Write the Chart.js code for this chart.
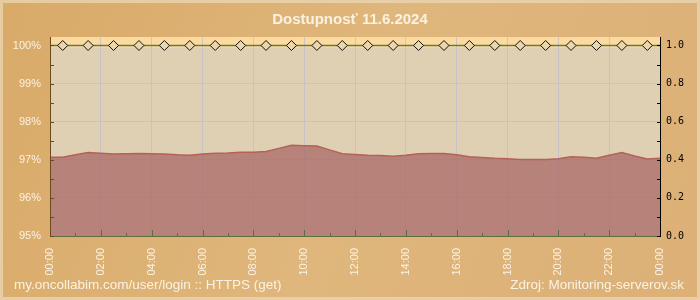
<!DOCTYPE html>
<html>
<head>
<meta charset="utf-8">
<script src="https://cdn.jsdelivr.net/npm/chart.js@4"></script>
<style>
  html, body { margin: 0; padding: 0; background: #dcb274; }
  canvas { display: block; }
</style>
</head>
<body>
<canvas id="chart" width="700" height="300"></canvas>
<script>
// availability (%) every 30 minutes, 00:00 .. 24:00
const availability = [
  97.07, 97.07, 97.13, 97.19, 97.17, 97.15, 97.16, 97.165, 97.16, 97.15,
  97.13, 97.12, 97.15, 97.17, 97.18, 97.20, 97.20, 97.22, 97.30, 97.38,
  97.37, 97.36, 97.26, 97.16, 97.14, 97.12, 97.11, 97.09, 97.12, 97.16,
  97.165, 97.165, 97.13, 97.08, 97.06, 97.04, 97.03, 97.01, 97.01, 97.01,
  97.03, 97.08, 97.07, 97.04, 97.12, 97.19, 97.10, 97.02, 97.04
];
// hourly check status (right axis), centred on each hour
const checkHours = [0.5, 1.5, 2.5, 3.5, 4.5, 5.5, 6.5, 7.5, 8.5, 9.5, 10.5, 11.5,
  12.5, 13.5, 14.5, 15.5, 16.5, 17.5, 18.5, 19.5, 20.5, 21.5, 22.5, 23.5];
const checkStatus = [1, 1, 1, 1, 1, 1, 1, 1, 1, 1, 1, 1, 1, 1, 1, 1, 1, 1, 1, 1, 1, 1, 1, 1];
const xTicks = [0, 2, 4, 6, 8, 10, 12, 14, 16, 18, 20, 22, 24];
const yTicks = [95, 95.5, 96, 96.5, 97, 97.5, 98, 98.5, 99, 99.5, 100];
const rTicks = [0, 0.1, 0.2, 0.3, 0.4, 0.5, 0.6, 0.7, 0.8, 0.9, 1.0];

const title = 'Dostupnosť 11.6.2024';
const footLeft = 'my.oncollabim.com/user/login :: HTTPS (get)';
const footRight = 'Zdroj: Monitoring-serverov.sk';

const FONT = "'Liberation Sans', Arial, sans-serif";
const LIGHT = '#fbf2e2';

// backgrounds, frame, plot area
const backdrop = {
  id: 'backdrop',
  beforeDraw(chart) {
    const { ctx, chartArea: a, width, height } = chart;
    ctx.save();
    const g = ctx.createLinearGradient(0, 0, width, height);
    g.addColorStop(0, '#d9aa68');
    g.addColorStop(0.5, '#dfb67c');
    g.addColorStop(1, '#dcb077');
    ctx.fillStyle = g;
    ctx.fillRect(0, 0, width, height);
    ctx.strokeStyle = 'rgba(236,218,186,0.7)';
    ctx.lineWidth = 3;
    ctx.strokeRect(1.5, 1.5, width - 3, height - 3);

    ctx.fillStyle = '#dfd0b4';
    ctx.fillRect(a.left, a.top, a.right - a.left, a.bottom - a.top);
    const y100 = chart.scales.y.getPixelForValue(100);
    const pg = ctx.createLinearGradient(0, a.top, 0, y100 + 2);
    pg.addColorStop(0, '#fed99a');
    pg.addColorStop(1, '#f6dcae');
    ctx.fillStyle = pg;
    ctx.fillRect(a.left, a.top, a.right - a.left, y100 + 2 - a.top);
    ctx.restore();
  },
  afterDraw(chart) {
    const { ctx, chartArea: a, width, height, scales } = chart;
    ctx.save();
    // axes with inward ticks
    ctx.lineWidth = 1;
    ctx.strokeStyle = '#5e6e3c';
    ctx.beginPath();
    ctx.moveTo(a.left, a.bottom + 0.5); ctx.lineTo(a.right, a.bottom + 0.5);
    for (let h = 0; h <= 24; h++) {
      const x = Math.round(scales.x.getPixelForValue(h)) + 0.5;
      ctx.moveTo(x, a.bottom); ctx.lineTo(x, a.bottom - (h % 2 === 0 ? 6 : 3));
    }
    ctx.stroke();

    ctx.strokeStyle = '#6a4a1e';
    ctx.beginPath();
    ctx.moveTo(a.left + 0.5, a.top); ctx.lineTo(a.left + 0.5, a.bottom + 1);
    yTicks.forEach(v => {
      const y = Math.round(scales.y.getPixelForValue(v)) + 0.5;
      ctx.moveTo(a.left, y); ctx.lineTo(a.left + 4, y);
    });
    ctx.stroke();

    ctx.strokeStyle = '#000';
    ctx.beginPath();
    ctx.moveTo(a.right + 0.5, a.top); ctx.lineTo(a.right + 0.5, a.bottom + 1);
    rTicks.forEach(v => {
      const y = Math.round(scales.y1.getPixelForValue(v)) + 0.5;
      ctx.moveTo(a.right, y); ctx.lineTo(a.right - 3, y);
    });
    ctx.stroke();

    // title & footer
    ctx.fillStyle = LIGHT;
    ctx.textBaseline = 'middle';
    ctx.font = 'bold 15px ' + FONT;
    ctx.textAlign = 'center';
    ctx.fillText(title, width / 2, 20);
    ctx.font = '13.5px ' + FONT;
    ctx.textAlign = 'left';
    ctx.fillText(footLeft, 14, height - 15);
    ctx.textAlign = 'right';
    ctx.fillText(footRight, width - 16, height - 15);
    ctx.restore();
  }
};

new Chart(document.getElementById('chart'), {
  type: 'line',
  data: {
    datasets: [
      {
        data: checkHours.map((h, i) => ({ x: h, y: checkStatus[i] })),
        yAxisID: 'y1',
        showLine: false,
        pointStyle: 'rectRot',
        pointRadius: 5,
        pointBorderColor: '#111',
        pointBorderWidth: 1,
        pointBackgroundColor: '#ecd6ac',
        order: 0
      },
      {
        data: [{ x: 0, y: checkStatus[0] }, { x: 24, y: checkStatus[checkStatus.length - 1] }],
        yAxisID: 'y1',
        borderColor: '#6b7a2c',
        borderWidth: 1.5,
        pointRadius: 0,
        order: 1
      },
      {
        data: availability.map((v, i) => ({ x: i / 2, y: v })),
        yAxisID: 'y',
        borderColor: '#b4615a',
        borderWidth: 1.5,
        backgroundColor: 'rgba(174,112,107,0.82)',
        fill: 'start',
        pointRadius: 0,
        tension: 0,
        order: 2
      }
    ]
  },
  options: {
    responsive: false,
    animation: false,
    layout: { padding: { top: 37, left: 0, right: 0, bottom: 0 } },
    plugins: { legend: { display: false }, tooltip: { enabled: false }, title: { display: false } },
    scales: {
      x: {
        type: 'linear', min: 0, max: 24,
        afterBuildTicks: s => { s.ticks = xTicks.map(v => ({ value: v })); },
        afterFit: s => { s.height = 64; },
        border: { display: false },
        grid: {
          drawTicks: false,
          color: c => (c.tick && c.tick.value > 0 && c.tick.value < 24) ? 'rgba(190,190,205,0.75)' : 'rgba(0,0,0,0)'
        },
        ticks: {
          padding: 12, minRotation: 90, maxRotation: 90, autoSkip: false,
          color: LIGHT, font: { family: FONT, size: 11 },
          callback: v => String(v % 24).padStart(2, '0') + ':00'
        }
      },
      y: {
        position: 'left', min: 95, max: 100.223,
        afterBuildTicks: s => { s.ticks = yTicks.map(v => ({ value: v })); },
        afterFit: s => { s.width = 50; },
        border: { display: false },
        grid: {
          drawTicks: false,
          color: c => (c.tick && Number.isInteger(c.tick.value) && c.tick.value > 95 && c.tick.value < 100) ? 'rgba(190,180,200,0.55)' : 'rgba(0,0,0,0)'
        },
        ticks: {
          padding: 9, color: LIGHT, font: { family: FONT, size: 11 },
          callback: v => Number.isInteger(v) ? v + '%' : ''
        }
      },
      y1: {
        position: 'right', min: 0, max: 1.0446,
        afterBuildTicks: s => { s.ticks = rTicks.map(v => ({ value: v })); },
        afterFit: s => { s.width = 40; },
        border: { display: false },
        grid: { drawOnChartArea: false, drawTicks: false },
        ticks: {
          padding: 6, color: '#000', font: { family: "'DejaVu Sans Mono', monospace", size: 10 },
          callback: v => Math.round(v * 10) % 2 === 0 ? v.toFixed(1) : ''
        }
      }
    }
  },
  plugins: [backdrop]
});
</script>
</body>
</html>
